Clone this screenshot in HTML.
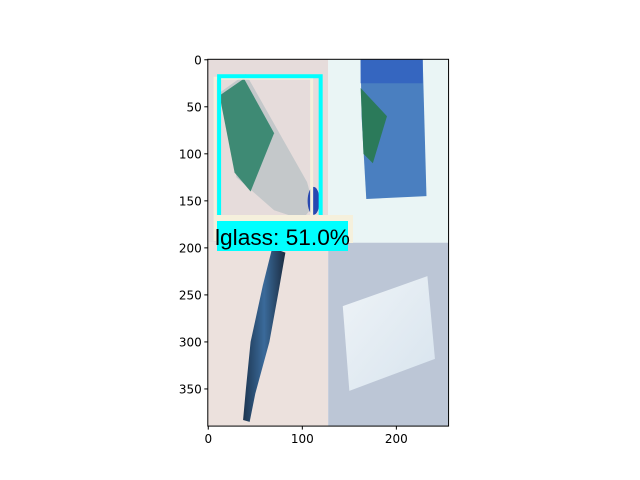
<!DOCTYPE html>
<html><head><meta charset="utf-8"><style>
html,body{margin:0;padding:0;background:#fff;}
svg{display:block;font-family:"Liberation Sans","DejaVu Sans",sans-serif;}
.tk{font-family:"DejaVu Sans","Liberation Sans",sans-serif;}
</style></head><body>
<svg id="chart" width="640" height="480" viewBox="0 0 640 480">
<defs>
<linearGradient id="bag" x1="0" y1="0" x2="1" y2="1"><stop offset="0" stop-color="#eef3f7"/><stop offset="1" stop-color="#d8e4ee"/></linearGradient>
<linearGradient id="bottle" x1="0" y1="0" x2="1" y2="0"><stop offset="0" stop-color="#1d3550"/><stop offset="0.5" stop-color="#3a6a9a"/><stop offset="1" stop-color="#1b2c40"/></linearGradient>
</defs>
<g id="img"></g>
<g id="axes"></g>
</svg>
<script>
const xTicks=[0,100,200];
const yTicks=[0,50,100,150,200,250,300,350];
const imgW=256, imgH=390;
const boxX=[11.5,119.5], boxY=[17.5,172];
const labelText="lglass: 51.0%";
const X0=207.8, Y0=59.3, S=0.9405;
const sx=v=>X0+(v+0.5)*S, sy=v=>Y0+(v+0.5)*S;
const NS="http://www.w3.org/2000/svg";
function mk(parent,tag,attrs,name){const e=document.createElementNS(NS,tag);for(const k in attrs)e.setAttribute(k,attrs[k]);


parent.appendChild(e);return e;}
const img=document.getElementById('img'), ax=document.getElementById('axes');
const L=sx(-0.5),R=sx(imgW-0.5),T=sy(-0.5),B=sy(imgH-0.5),MX=sx(127.5),MY=sy(194.5);
mk(img,'rect',{x:L,y:T,width:MX-L,height:MY-T,fill:'#e6dcdb'},'quadrant-top-left');
mk(img,'rect',{x:MX,y:T,width:R-MX,height:MY-T,fill:'#eaf5f5'},'quadrant-top-right');
mk(img,'rect',{x:L,y:MY,width:MX-L,height:B-MY,fill:'#ece1dd'},'quadrant-bottom-left');
mk(img,'rect',{x:MX,y:MY,width:R-MX,height:B-MY,fill:'#bcc6d6'},'quadrant-bottom-right');
mk(img,'polygon',{points:`${sx(12)},${sy(35)} ${sx(40)},${sy(15)} ${sx(105)},${sy(130)} ${sx(112)},${sy(155)} ${sx(100)},${sy(170)} ${sx(70)},${sy(160)} ${sx(30)},${sy(125)}`,fill:'#c4c8ca'},'plastic-bottle');
mk(img,'polygon',{points:`${sx(12)},${sy(38)} ${sx(38)},${sy(20)} ${sx(70)},${sy(78)} ${sx(45)},${sy(140)} ${sx(28)},${sy(120)}`,fill:'#3e8a74'},'bottle-label');
mk(img,'ellipse',{cx:sx(112),cy:sy(150),rx:6,ry:14,fill:'#2848b0'},'bottle-cap');
mk(img,'polygon',{points:`${sx(162)},${sy(0)} ${sx(228)},${sy(0)} ${sx(232)},${sy(145)} ${sx(168)},${sy(148)} ${sx(163)},${sy(60)}`,fill:'#4a7fc0'},'juice-pack');
mk(img,'polygon',{points:`${sx(162)},${sy(30)} ${sx(190)},${sy(60)} ${sx(175)},${sy(110)} ${sx(165)},${sy(100)}`,fill:'#2b7a5a'},'juice-pack-green');
mk(img,'rect',{x:sx(162),y:sy(0),width:S*66,height:S*25,fill:'#3566c0'},'juice-pack-top');
mk(img,'polygon',{points:`${sx(68)},${sy(200)} ${sx(82)},${sy(205)} ${sx(75)},${sy(245)} ${sx(65)},${sy(300)} ${sx(50)},${sy(355)} ${sx(44)},${sy(385)} ${sx(37)},${sy(383)} ${sx(40)},${sy(350)} ${sx(45)},${sy(300)} ${sx(58)},${sy(240)}`,fill:'url(#bottle)'},'glass-bottle');
mk(img,'polygon',{points:`${sx(143)},${sy(262)} ${sx(233)},${sy(230)} ${sx(241)},${sy(318)} ${sx(150)},${sy(352)}`,fill:'url(#bag)'},'plastic-bag');
mk(img,'rect',{x:sx(boxX[0])-4,y:sy(boxY[0])+2,width:(boxX[1]-boxX[0])*S-5,height:(boxY[1]-boxY[0])*S+16,fill:'none',stroke:'#f5f0dc',"stroke-width":3},'detection-shadow');
mk(img,'rect',{x:sx(boxX[0]),y:sy(boxY[0]),width:(boxX[1]-boxX[0])*S,height:(boxY[1]-boxY[0])*S,fill:'none',stroke:'#00ffff',"stroke-width":4},'detection-box');
mk(img,'rect',{x:216,y:215,width:137,height:28,fill:'#f5f0dc'},'label-shadow');
mk(img,'rect',{x:217,y:221,width:131,height:30,fill:'#00ffff'},'label-background');
const t=mk(img,'text',{x:215,y:245,"font-size":22,fill:'#000',textLength:135,lengthAdjust:'spacingAndGlyphs'},'detection-label');t.textContent=labelText;
mk(ax,'rect',{x:L,y:T,width:R-L,height:B-T,fill:'none',stroke:'#000',"stroke-width":1},'axes-frame');
xTicks.forEach(v=>{const x=sx(v);mk(ax,'line',{x1:x,y1:B,x2:x,y2:B+3.5,stroke:'#000'},'x-tick');
const tt=mk(ax,'text',{x:x,y:B+17,"font-size":12,"text-anchor":'middle',class:'tk'},'x-tick-label');tt.textContent=v;});
yTicks.forEach(v=>{const y=sy(v);mk(ax,'line',{x1:L,y1:y,x2:L-3.5,y2:y,stroke:'#000'},'y-tick');
const tt=mk(ax,'text',{x:L-6,y:y+4.5,"font-size":12,"text-anchor":'end',class:'tk'},'y-tick-label');tt.textContent=v;});
</script>
</body></html>
